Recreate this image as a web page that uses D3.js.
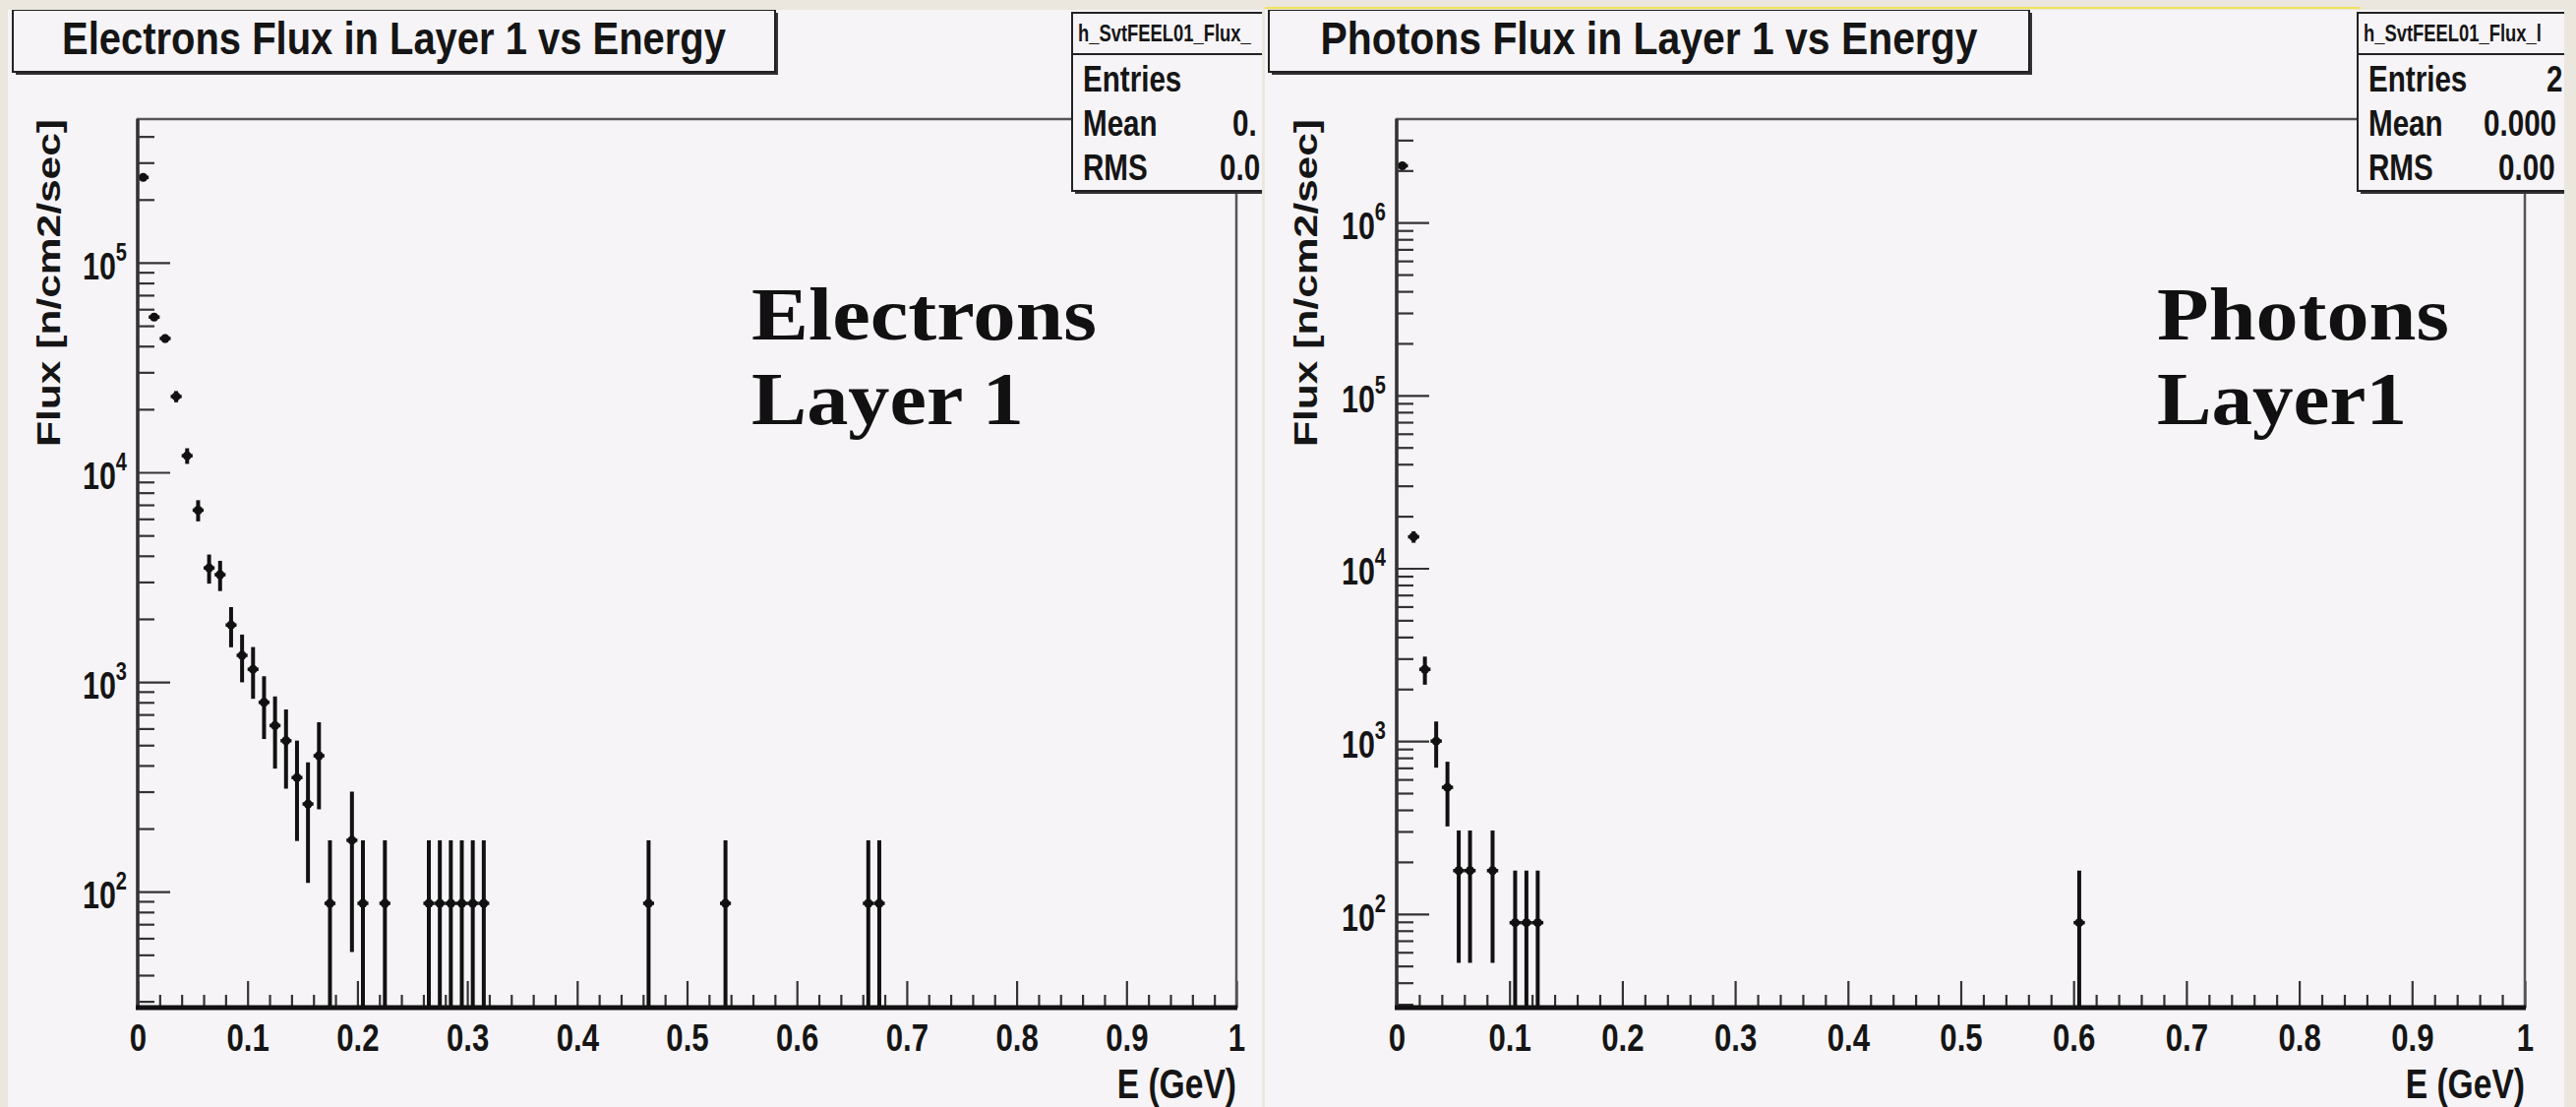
<!DOCTYPE html>
<html>
<head>
<meta charset="utf-8">
<title>Electrons / Photons Flux in Layer 1 vs Energy</title>
<script src="https://cdn.jsdelivr.net/npm/d3@7"></script>
<style>
body, html {
  margin: 0;
  padding: 0;
  background: #ebe7de;
}
svg { display: block; }
.rt {
  font-family: "Liberation Sans", Arial, sans-serif;
  font-weight: bold;
  fill: #151515;
}
.big {
  font-family: "Liberation Serif", "Times New Roman", serif;
  font-weight: bold;
  fill: #111;
}
.axis path, .axis line { stroke: #333; }
</style>
</head>
<body>
<script>
// bin centres (GeV) and flux (n/cm2/sec)
var electronE = [0.005, 0.015, 0.025, 0.035, 0.045, 0.055, 0.065, 0.075, 0.085, 0.095,
                 0.105, 0.115, 0.125, 0.135, 0.145, 0.155, 0.165, 0.175, 0.195, 0.205,
                 0.225, 0.265, 0.275, 0.285, 0.295, 0.305, 0.315, 0.465, 0.535, 0.665, 0.675];
var electronFlux = [255000, 55000, 43500, 23000, 12000, 6600, 3500, 3250, 1870, 1340,
                    1150, 800, 620, 525, 350, 262, 445, 88, 176, 88,
                    88, 88, 88, 88, 88, 88, 88, 88, 88, 88, 88];
var electronWeight = 88;   // flux of one entry, sets the error bars

var photonE = [0.005, 0.015, 0.025, 0.035, 0.045, 0.055, 0.065, 0.085, 0.105, 0.115, 0.125, 0.605];
var photonFlux = [2130000, 15200, 2600, 1000, 540, 178, 178, 178, 89, 89, 89, 89];
var photonWeight = 89;

var binHalfWidth = 0.005;

var xTickValues = [0, 0.1, 0.2, 0.3, 0.4, 0.5, 0.6, 0.7, 0.8, 0.9, 1];
var xTickLabels = ["0", "0.1", "0.2", "0.3", "0.4", "0.5", "0.6", "0.7", "0.8", "0.9", "1"];

var electronDecades = [1e2, 1e3, 1e4, 1e5];
var electronExponents = ["2", "3", "4", "5"];
var photonDecades = [1e2, 1e3, 1e4, 1e5, 1e6];
var photonExponents = ["2", "3", "4", "5", "6"];

var statLabels = ["Entries", "Mean", "RMS"];
var electronStatValues = ["", "0.", "0.0"];
var photonStatValues = ["2", "0.000", "0.00"];

var W = 2619, H = 1125;
var panelBg = "#f7f4f7";

var svg = d3.select("body").append("svg")
    .attr("width", W)
    .attr("height", H);

svg.append("rect").attr("width", W).attr("height", H).attr("fill", "#ebe7de");

function rootText(g, x, y, str, size, anchor) {
  return g.append("text")
      .attr("class", "rt")
      .attr("transform", "translate(" + x + "," + y + ") scale(0.8,1)")
      .attr("font-size", size)
      .attr("text-anchor", anchor || "start")
      .text(str);
}

function drawPanel(o) {
  var clipId = "clip-" + o.id, frameClipId = "frame-" + o.id;
  var defs = svg.append("defs");
  defs.append("clipPath").attr("id", clipId).append("rect")
      .attr("x", o.px0).attr("y", o.py0)
      .attr("width", o.px1 - o.px0).attr("height", H - o.py0);
  defs.append("clipPath").attr("id", frameClipId).append("rect")
      .attr("x", o.fx0).attr("y", o.fy0)
      .attr("width", o.fx1 - o.fx0).attr("height", o.fy1 - o.fy0);

  var g = svg.append("g").attr("clip-path", "url(#" + clipId + ")");

  g.append("rect")
      .attr("x", o.px0).attr("y", o.py0)
      .attr("width", o.px1 - o.px0).attr("height", H - o.py0)
      .attr("fill", panelBg);

  var x = d3.scaleLinear().domain([0, 1]).range([o.fx0, o.fx1]);
  var y = d3.scaleLog().domain(o.yDomain).range([o.fy1, o.fy0]);

  // minor ticks
  var minorX = d3.range(0, 1.0001, 0.02).filter(function(v) {
    return Math.abs(v * 10 - Math.round(v * 10)) > 1e-6;
  });
  var minorY = [];
  o.decades.concat([o.decades[0] / 10]).forEach(function(d) {
    for (var k = 2; k <= 9; k++) {
      var v = d * k;
      if (v > o.yDomain[0] && v < o.yDomain[1]) minorY.push(v);
    }
  });

  g.append("g").attr("class", "axis")
      .attr("transform", "translate(0," + o.fy1 + ")")
      .call(d3.axisBottom(x).tickValues(minorX).tickSize(-13).tickSizeOuter(0).tickFormat(""))
      .call(function(s) { s.select(".domain").remove(); s.selectAll("line").attr("stroke-width", 2.2); });

  var xAxis = g.append("g").attr("class", "axis")
      .attr("transform", "translate(0," + o.fy1 + ")")
      .call(d3.axisBottom(x).tickValues(xTickValues).tickSize(-27).tickSizeOuter(0).tickPadding(16)
        .tickFormat(function(d, i) { return xTickLabels[i]; }));
  xAxis.select(".domain").remove();
  xAxis.selectAll("line").attr("stroke-width", 2.2);
  xAxis.selectAll("text")
      .attr("class", "rt")
      .attr("font-size", 39)
      .attr("transform", "scale(0.8,1)");

  g.append("g").attr("class", "axis")
      .attr("transform", "translate(" + o.fx0 + ",0)")
      .call(d3.axisLeft(y).tickValues(minorY).tickSize(-17).tickSizeOuter(0).tickFormat(""))
      .call(function(s) { s.select(".domain").remove(); s.selectAll("line").attr("stroke-width", 2.2); });

  var yAxis = g.append("g").attr("class", "axis")
      .attr("transform", "translate(" + o.fx0 + ",0)")
      .call(d3.axisLeft(y).tickValues(o.decades).tickSize(-33).tickSizeOuter(0).tickFormat(""));
  yAxis.select(".domain").remove();
  yAxis.selectAll("line").attr("stroke-width", 2.2);

  o.decades.forEach(function(d, i) {
    var t = g.append("text")
        .attr("class", "rt")
        .attr("font-size", 38)
        .attr("text-anchor", "end")
        .attr("transform", "translate(" + (o.fx0 - 11) + "," + (y(d) + 17) + ") scale(0.8,1)");
    t.append("tspan").text("10");
    t.append("tspan").attr("dy", -19).attr("font-size", 25).text(o.exponents[i]);
  });

  // data: markers with error bars
  var pts = o.E.map(function(e, i) {
    var v = o.flux[i];
    return { e: e, v: v, err: Math.sqrt(v * o.weight) };
  });
  var dg = g.append("g").attr("clip-path", "url(#" + frameClipId + ")");
  var bars = dg.selectAll("g.pt").data(pts).enter().append("g").attr("class", "pt");
  bars.append("line")
      .attr("x1", function(d) { return x(d.e); })
      .attr("x2", function(d) { return x(d.e); })
      .attr("y1", function(d) { return y(d.v + d.err); })
      .attr("y2", function(d) { return d.v - d.err > o.yDomain[0] ? y(d.v - d.err) : o.fy1; })
      .attr("stroke", "#111").attr("stroke-width", 4);
  bars.append("line")
      .attr("x1", function(d) { return x(d.e - binHalfWidth); })
      .attr("x2", function(d) { return x(d.e + binHalfWidth); })
      .attr("y1", function(d) { return y(d.v); })
      .attr("y2", function(d) { return y(d.v); })
      .attr("stroke", "#111").attr("stroke-width", 3.5);
  bars.append("circle")
      .attr("cx", function(d) { return x(d.e); })
      .attr("cy", function(d) { return y(d.v); })
      .attr("r", 4.5)
      .attr("fill", "#111");

  // frame
  g.append("rect")
      .attr("x", o.fx0).attr("y", o.fy0)
      .attr("width", o.fx1 - o.fx0).attr("height", o.fy1 - o.fy0)
      .attr("fill", "none").attr("stroke", "#555").attr("stroke-width", 2.5);
  g.append("line")
      .attr("x1", o.fx0).attr("x2", o.fx0).attr("y1", o.fy0).attr("y2", o.fy1)
      .attr("stroke", "#333").attr("stroke-width", 3.5);
  g.append("line")
      .attr("x1", o.fx0 - 2).attr("x2", o.fx1 + 1).attr("y1", o.fy1).attr("y2", o.fy1)
      .attr("stroke", "#111").attr("stroke-width", 5);

  rootText(g, o.fx1, o.fy1 + 92, "E (GeV)", 42, "end");

  // y axis title
  g.append("text")
      .attr("class", "rt")
      .attr("font-size", 34)
      .attr("text-anchor", "end")
      .attr("transform", "translate(" + o.yLabelX + "," + o.fy0 + ") scale(1,1.25) rotate(-90)")
      .text("Flux [n/cm2/sec]");

  // title box
  var tb = o.titleBox;
  g.append("rect")
      .attr("x", tb[0] + 3).attr("y", tb[1] + 3)
      .attr("width", tb[2] - tb[0]).attr("height", tb[3] - tb[1])
      .attr("fill", "#333");
  g.append("rect")
      .attr("x", tb[0]).attr("y", tb[1])
      .attr("width", tb[2] - tb[0]).attr("height", tb[3] - tb[1])
      .attr("fill", panelBg).attr("stroke", "#222").attr("stroke-width", 2);
  g.append("text")
      .attr("class", "rt")
      .attr("font-size", 46)
      .attr("text-anchor", "middle")
      .attr("x", (tb[0] + tb[2]) / 2).attr("y", tb[1] + 45)
      .attr("textLength", o.titleLen)
      .attr("lengthAdjust", "spacingAndGlyphs")
      .text(o.title);

  // stat box
  var sb = o.statBox;
  g.append("rect")
      .attr("x", sb[0] + 3).attr("y", sb[1] + 3)
      .attr("width", sb[2] - sb[0]).attr("height", sb[3] - sb[1])
      .attr("fill", "#333");
  g.append("rect")
      .attr("x", sb[0]).attr("y", sb[1])
      .attr("width", sb[2] - sb[0]).attr("height", sb[3] - sb[1])
      .attr("fill", panelBg).attr("stroke", "#222").attr("stroke-width", 2);
  g.append("line")
      .attr("x1", sb[0]).attr("x2", sb[2]).attr("y1", sb[1] + 42).attr("y2", sb[1] + 42)
      .attr("stroke", "#222").attr("stroke-width", 2);
  rootText(g, sb[0] + 6, sb[1] + 29, o.statHeader, 23);
  statLabels.forEach(function(lbl, i) {
    rootText(g, sb[0] + 11, sb[1] + 80 + i * 45, lbl, 37);
    if (o.statValues[i]) rootText(g, o.statValueX[i], sb[1] + 80 + i * 45, o.statValues[i], 37);
  });

  // big two-line label
  o.bigLines.forEach(function(line, i) {
    g.append("text")
        .attr("class", "big")
        .attr("font-size", 77)
        .attr("x", o.bigX)
        .attr("y", 345 + i * 86)
        .attr("textLength", o.bigLens[i])
        .attr("lengthAdjust", "spacingAndGlyphs")
        .text(line);
  });
}

drawPanel({
  id: "e", px0: 8, py0: 10, px1: 1283,
  fx0: 140, fx1: 1257, fy0: 121, fy1: 1024,
  yDomain: [28, 4.84e5],
  decades: electronDecades, exponents: electronExponents,
  E: electronE, flux: electronFlux, weight: electronWeight,
  title: "Electrons Flux in Layer 1 vs Energy", titleBox: [13, 10, 788, 73], titleLen: 675,
  statBox: [1090, 13, 1320, 194], statHeader: "h_SvtFEEL01_Flux_",
  statValues: electronStatValues, statValueX: [0, 1253, 1240],
  yLabelX: 61,
  bigLines: ["Electrons", "Layer 1"], bigX: 764, bigLens: [351, 277]
});

drawPanel({
  id: "p", px0: 1286, py0: 10, px1: 2607,
  fx0: 1420, fx1: 2567, fy0: 121, fy1: 1024,
  yDomain: [28.7, 3.97e6],
  decades: photonDecades, exponents: photonExponents,
  E: photonE, flux: photonFlux, weight: photonWeight,
  title: "Photons Flux in Layer 1 vs Energy", titleBox: [1290, 10, 2063, 73], titleLen: 668,
  statBox: [2397, 13, 2660, 194], statHeader: "h_SvtFEEL01_Flux_l",
  statValues: photonStatValues, statValueX: [2589, 2525, 2540],
  yLabelX: 1339,
  bigLines: ["Photons", "Layer1"], bigX: 2193, bigLens: [297, 254]
});

// thin yellow highlight along the top of the right panel
svg.append("line")
    .attr("x1", 1286).attr("x2", 2400).attr("y1", 8).attr("y2", 8)
    .attr("stroke", "#f3e25c").attr("stroke-width", 2);
</script>
</body>
</html>
